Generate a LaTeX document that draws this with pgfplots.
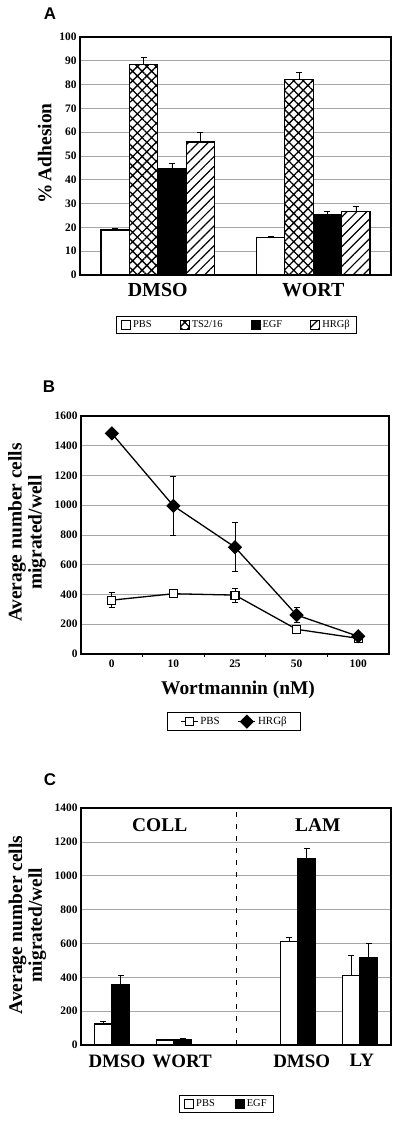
\documentclass[border=0pt]{standalone}
\usepackage{pgfplots}
\pgfplotsset{compat=1.18}
\usetikzlibrary{patterns.meta}
\usepackage{fontspec}
\setmainfont{Liberation Serif}
\newfontfamily\panelfont{Liberation Sans}

\pgfplotsset{
  panel/.style={
    scale only axis,
    axis line style={line width=1.8bp},
    ymajorgrids,
    grid style={gray!70, line width=0.6bp},
    major tick length=0pt,
    tick label style={font=\bfseries\fontsize{11.5}{12}\selectfont},
    /pgf/number format/assume math mode=true,
    /pgf/number format/1000 sep={},
    label style={font=\bfseries\fontsize{19.5}{20}\selectfont},
    ylabel style={align=center},
    legend style={draw=black, line width=1bp, font=\fontsize{10.5}{11}\selectfont,
      inner xsep=5bp, inner ysep=2.5bp,
      /tikz/every even column/.append style={column sep=26bp}},
    legend cell align=left,
    clip=false,
  },
  sqleg/.style={legend image code/.code={\draw[##1, line width=1bp] (0bp,-4.5bp) rectangle (9bp,4.5bp);}},
  eb/.style={error bars/.cd, y dir=plus, y explicit,
    error bar style={line width=0.8bp, black},
    error mark options={rotate=90, mark size=3bp, line width=0.8bp, black}},
  ebb/.style={error bars/.cd, y dir=both, y explicit,
    error bar style={line width=0.8bp, black},
    error mark options={rotate=90, mark size=3bp, line width=0.8bp, black}},
}

\begin{document}
\begin{tikzpicture}
\path[use as bounding box] (0bp,0bp) rectangle (400bp,1123bp);

% Panel letters
\node[font=\panelfont\bfseries\fontsize{17}{18}\selectfont] at (50bp,1109bp) {A};
\node[font=\panelfont\bfseries\fontsize{17}{18}\selectfont] at (49bp,736bp) {B};
\node[font=\panelfont\bfseries\fontsize{17}{18}\selectfont] at (50bp,343bp) {C};

% ---------------- Panel A ----------------
\begin{axis}[panel,
  at={(80bp,848bp)}, anchor=south west, width=311bp, height=238bp,
  ymin=0, ymax=100, ytick={0,10,...,100},
  xmin=-0.5, xmax=1.5, xtick={0,1}, xticklabels={DMSO,WORT},
  xticklabel style={font=\bfseries\fontsize{20}{21}\selectfont, yshift=-5bp},
  ybar=0pt, bar width=0.183,
  ylabel={\%\,Adhesion},
  ylabel style={at={(axis description cs:-0.113,0.51)}, anchor=center},
  legend columns=4,
  legend style={at={(0.503,-0.21)}, anchor=center},
]
\addplot[draw=black, line width=1.4bp, fill=white, sqleg, eb]
  coordinates {(0,18.9) +- (0,0.7) (1,15.7) +- (0,0.4)};
\addplot[draw=black, line width=1.4bp, fill=white,
  postaction={pattern={Hatch[angle=45,distance=6.7bp,line width=1.3bp]}}, sqleg, eb]
  coordinates {(0,88.4) +- (0,3.0) (1,82.2) +- (0,2.9)};
\addplot[draw=black, line width=1.4bp, fill=black, sqleg, eb]
  coordinates {(0,44.6) +- (0,2.1) (1,25.5) +- (0,1.1)};
\addplot[draw=black, line width=1.4bp, fill=white,
  postaction={pattern={Lines[angle=45,distance=7bp,line width=1.2bp]}}, sqleg, eb]
  coordinates {(0,55.8) +- (0,4.1) (1,26.8) +- (0,2.1)};
\legend{PBS, TS2/16, EGF, HRGβ}
\end{axis}

% ---------------- Panel B ----------------
\begin{axis}[panel,
  at={(81bp,469bp)}, anchor=south west, width=308bp, height=238bp,
  ymin=0, ymax=1600, ytick={0,200,...,1600},
  xmin=-0.5, xmax=4.5, xtick={0,...,4}, xticklabels={0,10,25,50,100},
  minor xtick={0.5,1.5,2.5,3.5}, minor tick length=3bp, tick align=outside,
  xtick pos=bottom, ytick pos=left,
  minor tick style={line width=0.6bp, black},
  xticklabel style={yshift=-2.5bp},
  xlabel={Wortmannin (nM)},
  xlabel style={at={(axis description cs:0.51,-0.151)}, anchor=center},
  ylabel={Average number cells\\migrated/well},
  ylabel style={at={(axis description cs:-0.175,0.51)}, anchor=center},
  legend columns=2,
  legend style={at={(0.498,-0.284)}, anchor=center, font=\fontsize{11}{12}\selectfont,
    inner xsep=12bp,
    /tikz/every even column/.append style={column sep=16bp}},
]
\addplot[black, line width=1.3bp, mark=square*, mark size=4bp,
  mark options={fill=white, line width=1.1bp, solid}, ebb]
  coordinates {(0,362) +- (0,50) (1,405) (2,396) +- (0,48) (3,166) (4,105)};
\addplot[black, line width=1.3bp, mark=square*, mark size=4.4bp,
  mark options={fill=black, rotate=45, solid}, ebb]
  coordinates {(0,1483) (1,996) +- (0,198) (2,718) +- (0,165) (3,262) +- (0,51) (4,119)};
\legend{PBS, HRGβ}
\end{axis}

% ---------------- Panel C ----------------
\begin{axis}[panel,
  at={(81bp,78bp)}, anchor=south west, width=310bp, height=237bp,
  ymin=0, ymax=1400, ytick={0,200,...,1400},
  xmin=-0.5, xmax=4.5, xtick={0.08,1.13,3.06,4.03}, xticklabels={DMSO,WORT,DMSO,LY},
  xticklabel style={font=\bfseries\fontsize{19}{20}\selectfont, yshift=-6bp},
  ybar=0pt, bar width=0.285,
  ylabel={Average number cells\\migrated/well},
  ylabel style={at={(axis description cs:-0.173,0.506)}, anchor=center},
  legend columns=2,
  legend style={at={(0.469,-0.249)}, anchor=center,
    /tikz/every even column/.append style={column sep=18bp}},
]
\draw[black, line width=0.9bp, dash pattern=on 5bp off 7bp] (axis cs:2,0) -- (axis cs:2,1400);
\node[font=\bfseries\fontsize{19.5}{20}\selectfont] at (axis cs:0.77,1300) {COLL};
\node[font=\bfseries\fontsize{19.5}{20}\selectfont] at (axis cs:3.32,1300) {LAM};
\addplot[draw=black, line width=1.4bp, fill=white, sqleg, eb]
  coordinates {(0,124) +- (0,14) (1,29.5) +- (0,6) (3,613) +- (0,24) (4,409) +- (0,118)};
\addplot[draw=black, line width=1.4bp, fill=black, sqleg, eb]
  coordinates {(0,354) +- (0,55) (1,33) +- (0,6) (3,1101) +- (0,59) (4,517) +- (0,83)};
\legend{PBS, EGF}
\end{axis}
\end{tikzpicture}
\end{document}
